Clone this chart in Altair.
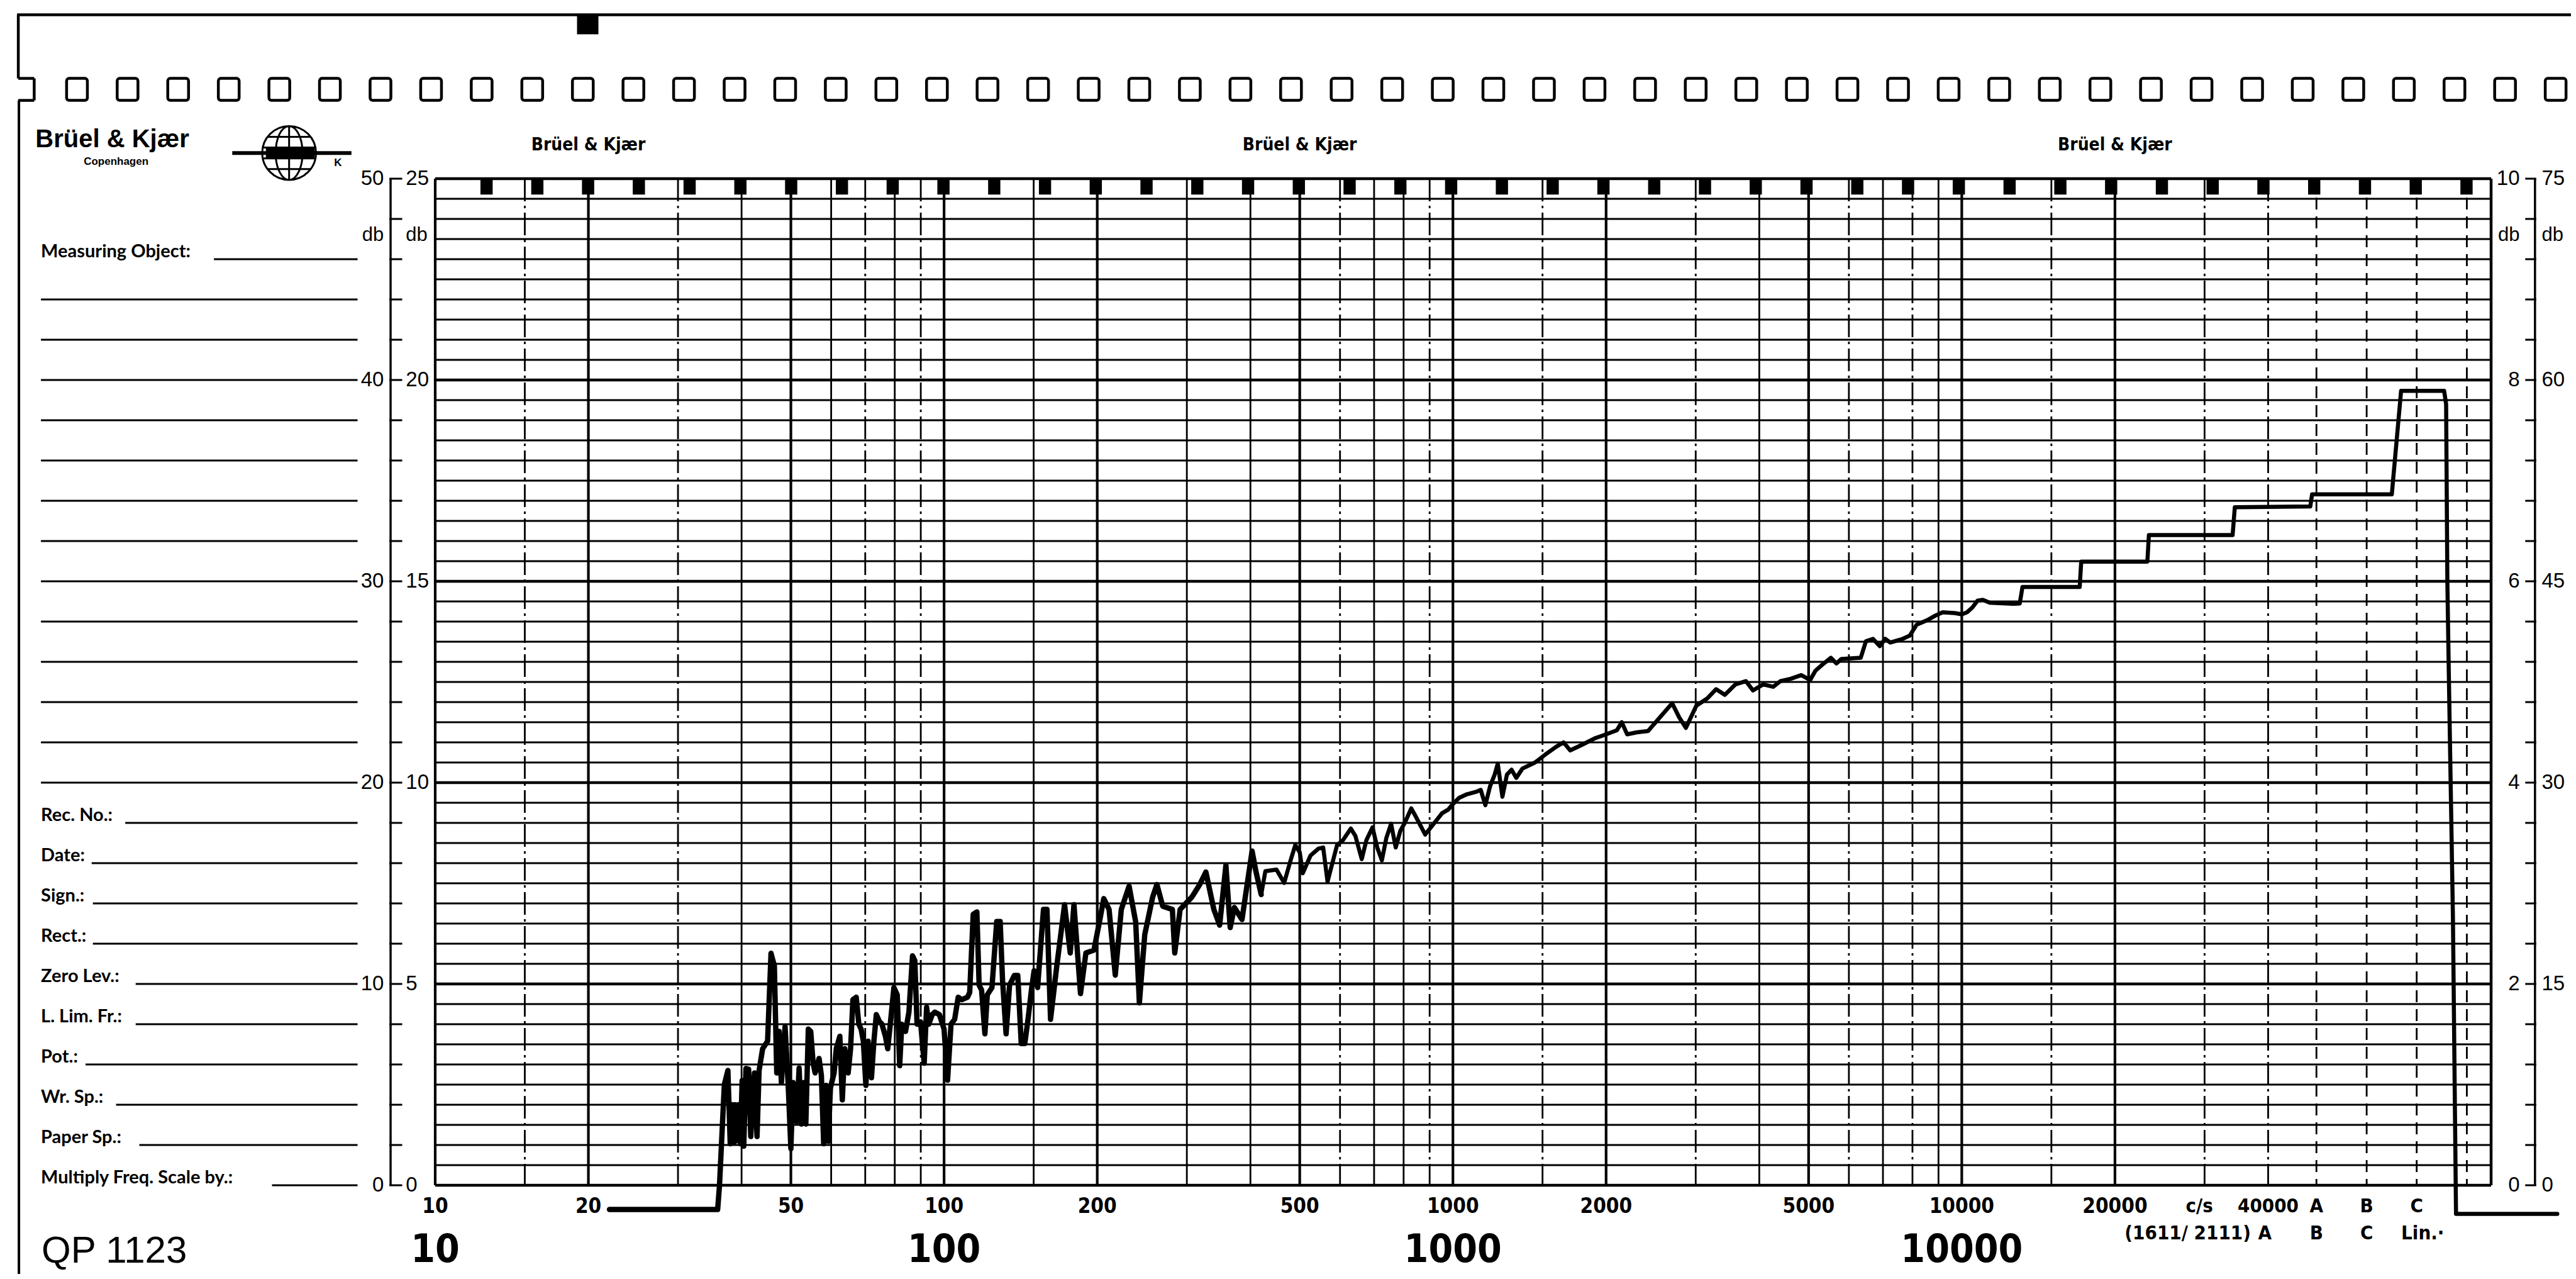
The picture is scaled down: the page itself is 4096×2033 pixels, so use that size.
import altair as alt
import pandas as pd

# ---------------- data ----------------
# recorded level (dB on the 25 dB scale) vs frequency (c/s)
low_freq = [22.0, 35.9, 36.2, 37.0, 37.6, 38.0, 38.3, 38.6, 38.8, 39.0, 39.4, 39.8, 40.1, 40.4, 40.8,
            41.3, 41.7, 42.4, 42.9, 43.3,
            44.0, 45.0, 45.7, 46.4, 46.9, 47.4, 47.9, 48.7, 49.4, 50.0, 50.5, 51.3, 51.9, 52.4, 53.0,
            53.5, 54.1, 54.7, 55.3, 55.8, 56.8, 57.4, 58.0, 58.6, 59.2, 59.8, 60.8, 61.4, 62.4, 63.1,
            63.8, 64.8, 65.5, 66.2, 67.2, 68.0, 68.7, 69.4, 70.2, 70.9, 72.0, 72.8, 73.6, 74.7, 75.5,
            76.7, 77.5, 78.4, 79.7, 80.9, 81.8, 82.6, 84.0, 85.3, 86.7, 87.6, 88.5, 89.9, 91.4, 92.4,
            93.3, 94.8, 95.9, 97.9, 100, 101.6, 103.2, 104.9, 106.6, 108.3, 111.2, 112.3, 114.1, 116.0,
            117.2, 118.5, 120.3, 121.6, 124.2, 126.9, 128.9, 130.3, 132.4, 134.5, 137.4, 139.6, 141.8,
            144.1, 146.4, 148.7, 150.3, 152.7, 156.8, 159.3, 161.9]
low_level = [-0.6, -0.6, 0.0, 2.5, 2.85, 1.03, 2.0, 1.05, 2.0, 1.1, 2.0, 1.03, 2.6, 0.97, 2.9,
             2.88, 1.21, 2.79, 1.21, 2.85,
             3.39, 3.58, 5.76, 5.45, 2.79, 3.82, 2.55, 3.94, 2.48, 0.91, 2.55, 1.58, 2.91, 1.52, 2.55,
             1.52, 3.88, 3.82, 3.03, 2.79, 3.15, 2.73, 1.03, 2.48, 1.09, 2.42, 2.79, 3.39, 3.70, 2.12,
             3.39, 2.79, 3.39, 4.61, 4.67, 4.0, 3.88, 3.58, 2.48, 3.58, 2.67, 3.58, 4.24, 4.06, 4.0,
             3.70, 3.39, 4.0, 4.91, 4.73, 2.97, 4.0, 3.82, 4.30, 5.70, 5.58, 4.0, 4.06, 3.03, 4.42,
             4.0, 4.24, 4.30, 4.24, 3.88, 2.61, 4.0, 4.12, 4.67, 4.61, 4.67, 4.79, 6.73, 6.79,
             4.97, 4.85, 3.76, 4.73, 4.91, 6.55, 6.55, 5.09, 3.76, 4.97, 5.21, 5.21, 3.52,
             3.52, 4.18, 4.91, 5.33, 4.91, 6.85, 6.85, 4.12]

mid_freq = [166.6, 172.5, 177, 180, 185.4, 190, 197, 202, 206, 211, 217, 223, 231, 238, 242, 248, 257,
            262, 269, 281, 284, 291, 307, 318, 327, 339, 348, 358, 365, 372, 385, 403, 410, 420, 428,
            450, 466, 479, 490, 500, 507, 525, 544, 556, 567, 579, 592, 608, 630, 643, 662, 676, 695,
            710, 725, 740, 756, 772, 788, 805, 828, 846, 882, 913, 952, 979, 1000, 1028, 1065, 1110,
            1134, 1158, 1183, 1208, 1225, 1251, 1277, 1304, 1332, 1370, 1450, 1520, 1600, 1650, 1700,
            1800, 1900, 2000, 2100, 2147, 2200, 2300]
mid_level = [5.46, 6.97, 5.77, 6.97, 4.76, 5.77, 5.84, 6.54, 7.12, 6.85, 5.22, 6.85, 7.43, 6.54, 4.53,
             6.23, 7.16, 7.47, 6.93, 6.85, 5.77, 6.85, 7.16, 7.47, 7.78, 6.85, 6.46, 7.95, 6.4, 6.9,
             6.6, 8.30, 7.8, 7.22, 7.8, 7.84, 7.51, 8.04, 8.45, 8.27, 7.75, 8.19, 8.36, 8.39, 7.54,
             7.98, 8.45, 8.57, 8.86, 8.68, 8.10, 8.57, 8.89, 8.39, 8.07, 8.63, 8.98, 8.39, 8.80, 9.01,
             9.36, 9.15, 8.71, 8.95, 9.24, 9.33, 9.47, 9.62, 9.71, 9.77, 9.82, 9.44, 9.91, 10.20,
             10.47, 9.65, 10.20, 10.32, 10.12, 10.35, 10.5, 10.7, 10.9, 11.0, 10.8, 10.95, 11.1,
             11.2, 11.3, 11.5, 11.2, 11.25]

high_freq = [2417, 2576, 2697, 2784, 2870, 3008, 3160, 3290, 3423, 3590, 3766, 3888, 4070, 4260, 4400,
             4614, 4836, 5036, 5157, 5320, 5530, 5670, 5800, 6330, 6480, 6690, 6900, 7070, 7235, 7650,
             7900, 8150, 8540, 8880, 9170, 9690, 10000, 10240, 10490, 10740, 11000, 11350, 12630,
             13000, 13160, 17050, 17170, 23160, 23320, 34060, 34400, 48400, 48800, 70000, 73000,
             88700, 89500, 90000, 90600, 92300, 93600, 148000]
high_level = [11.28, 11.68, 11.97, 11.62, 11.36, 11.91, 12.09, 12.32, 12.18, 12.44, 12.52, 12.29, 12.44,
              12.38, 12.52, 12.58, 12.67, 12.55, 12.78, 12.93, 13.10, 12.96, 13.07, 13.10, 13.51, 13.57,
              13.39, 13.57, 13.48, 13.57, 13.65, 13.92, 14.03, 14.15, 14.23, 14.21, 14.18, 14.23, 14.35,
              14.52, 14.54, 14.47, 14.44, 14.45, 14.86, 14.86, 15.49, 15.49, 16.15, 16.15, 16.84, 16.86,
              17.16, 17.16, 19.73, 19.73, 19.4, 15.0, 12.7, 6.65, -0.71, -0.71]

# paper grid
major_lines = [10, 20, 50, 100, 200, 500, 1000, 2000, 5000, 10000, 20000]
minor_lines = [40, 60, 80, 150, 300, 400, 700, 800, 4000, 7000, 9000]
dashdot_lines = [15, 30, 70, 90, 600, 900, 1500, 3000, 6000, 8000, 15000, 30000, 40000]
weighting_lines = [49770, 62470, 78340, 98300]
right_edge = 109700
level_lines = [i * 0.5 for i in range(51)]

small_tick_freqs = [10, 20, 50, 100, 200, 500, 1000, 2000, 5000, 10000, 20000]
small_tick_labels = ["10", "20", "50", "100", "200", "500", "1000", "2000", "5000", "10000", "20000"]
decade_freqs = [10, 100, 1000, 10000]
decade_labels = ["10", "100", "1000", "10000"]
row1_freqs = [29300, 40000, 49770, 62470, 78340]
row1_labels = ["c/s", "40000", "A", "B", "C"]
row2_freqs = [27800, 39400, 49770, 62470, 80500]
row2_labels = ["(1611/ 2111)", "A", "B", "C", "Lin.·"]
header_freqs = [20, 500, 20000]

axis_levels = [25, 20, 15, 10, 5, 0]
left_outer = ["50", "40", "30", "20", "10", "0"]
left_inner = ["25", "20", "15", "10", "5", "0"]
right_inner = ["10", "8", "6", "4", "2", "0"]
right_outer = ["75", "60", "45", "30", "15", "0"]
tick_levels = list(range(26))

form_labels = ["Measuring Object:", "Rec. No.:", "Date:", "Sign.:", "Rect.:", "Zero Lev.:",
               "L. Lim. Fr.:", "Pot.:", "Wr. Sp.:", "Paper Sp.:", "Multiply Freq. Scale by.:"]
form_levels = [23, 9, 8, 7, 6, 5, 4, 3, 2, 1, 0]
blank_levels = list(range(10, 23))

# ---------------- layout (reference pixels -> output pixels) ----------------
S = 0.972
X0, Y0 = 712, 292
W = round((4075 - X0) * S)
H = round((1938 - Y0) * S)


def px(X):
    return (X - X0) * S


def py(Y):
    return (Y - Y0) * S


xs = alt.Scale(type="log", domain=[10, right_edge], nice=False)
ys = alt.Scale(domain=[0, 25], nice=False, zero=False)
NUM = "'Liberation Sans', Arial, sans-serif"
NARROW = "'Liberation Sans Narrow', 'DejaVu Sans Condensed', 'Liberation Sans', sans-serif"
FORM = "Lato, 'Open Sans', sans-serif"


def fx(field="f"):
    return alt.X(f"{field}:Q", scale=xs, axis=None)


def ly(field="db"):
    return alt.Y(f"{field}:Q", scale=ys, axis=None)


def pxx(field="x1"):
    return alt.X(f"{field}:Q", scale=None, axis=None)


def pyy(field="y1"):
    return alt.Y(f"{field}:Q", scale=None, axis=None)


layers = []

# vertical grid lines
def vlines(freqs, width, dash=None):
    kw = dict(color="black", strokeWidth=width)
    if dash:
        kw["strokeDash"] = dash
    return alt.Chart(pd.DataFrame({"f": freqs})).mark_rule(**kw).encode(
        x=fx(), y=alt.value(0), y2=alt.value(H))

layers.append(vlines(minor_lines, 2.8))
layers.append(vlines(dashdot_lines, 2.8, [36, 7, 4, 7]))
layers.append(vlines(weighting_lines, 2.8, [19, 11]))
layers.append(vlines(major_lines, 4.2))
layers.append(vlines([right_edge], 4.5))

# horizontal grid lines
hl = pd.DataFrame({"db": level_lines})
hl["w"] = [4.6 if (v % 5 == 0) else 3.0 for v in level_lines]
layers.append(alt.Chart(hl[hl.w < 4]).mark_rule(color="black", strokeWidth=3.0).encode(
    y=ly(), x=alt.value(0), x2=alt.value(W)))
layers.append(alt.Chart(hl[hl.w > 4]).mark_rule(color="black", strokeWidth=4.6).encode(
    y=ly(), x=alt.value(0), x2=alt.value(W)))

# notches on top border of the grid
notch_x = [796 + 83.05 * i for i in range(40)]
notches = pd.DataFrame({"x1": [px(x - 10) for x in notch_x], "x2": [px(x + 10) for x in notch_x]})
layers.append(alt.Chart(notches).mark_rect(color="black").encode(
    x=pxx("x1"), x2=alt.X2("x2"), y=alt.value(py(290)), y2=alt.value(py(318))))

# recorded curve (the jagged low-frequency part traced with a wider pen)
curve = pd.DataFrame({"f": low_freq + mid_freq + high_freq,
                      "db": low_level + mid_level + high_level})
curve["i"] = range(len(curve))
split = curve.index[curve.f == 420][0]
layers.append(alt.Chart(curve.loc[:split]).mark_line(
    color="black", strokeWidth=8.5, clip=False, strokeJoin="round", strokeCap="round").encode(
    x=fx(), y=ly(), order="i:Q"))
layers.append(alt.Chart(curve.loc[split:]).mark_line(
    color="black", strokeWidth=6.5, clip=False, strokeJoin="round", strokeCap="round").encode(
    x=fx(), y=ly(), order="i:Q"))

# ---------- left scale ----------
layers.append(alt.Chart(pd.DataFrame({"a": [0]})).mark_rule(color="black", strokeWidth=3.5).encode(
    x=alt.value(px(639)), y=alt.value(0), y2=alt.value(H)))
layers.append(alt.Chart(pd.DataFrame({"db": tick_levels})).mark_rule(color="black", strokeWidth=3).encode(
    y=ly(), x=alt.value(px(637)), x2=alt.value(px(658))))
la = pd.DataFrame({"db": axis_levels, "o": left_outer, "n": left_inner,
                   "ri": right_inner, "ro": right_outer})
layers.append(alt.Chart(la).mark_text(align="right", baseline="middle", font=NUM, fontSize=33,
                                      color="black").encode(y=ly(), x=alt.value(px(628)), text="o:N"))
layers.append(alt.Chart(la).mark_text(align="left", baseline="middle", font=NUM, fontSize=33,
                                      color="black").encode(y=ly(), x=alt.value(px(664)), text="n:N"))

# ---------- right scale ----------
layers.append(alt.Chart(pd.DataFrame({"a": [0]})).mark_rule(color="black", strokeWidth=3.5).encode(
    x=alt.value(px(4147)), y=alt.value(0), y2=alt.value(H)))
layers.append(alt.Chart(pd.DataFrame({"db": tick_levels})).mark_rule(color="black", strokeWidth=3).encode(
    y=ly(), x=alt.value(px(4131)), x2=alt.value(px(4149))))
layers.append(alt.Chart(la).mark_text(align="right", baseline="middle", font=NUM, fontSize=33,
                                      color="black").encode(y=ly(), x=alt.value(px(4122)), text="ri:N"))
layers.append(alt.Chart(la).mark_text(align="left", baseline="middle", font=NUM, fontSize=33,
                                      color="black").encode(y=ly(), x=alt.value(px(4158)), text="ro:N"))

# db labels
dbl = pd.DataFrame({"db": [23.6] * 4, "x1": [px(628), px(664), px(4122), px(4158)],
                    "t": ["db", "db", "db", "db"], "a": ["right", "left", "right", "left"]})
for a in ["right", "left"]:
    layers.append(alt.Chart(dbl[dbl.a == a]).mark_text(align=a, baseline="middle", font=NUM,
                                                       fontSize=31, color="black").encode(
        y=ly(), x=pxx("x1"), text="t:N"))

# ---------- form on the left ----------
form_line_start = [350, 205, 150, 152, 152, 222, 222, 140, 190, 228, 445]
fl = pd.DataFrame({"db": form_levels, "t": form_labels,
                   "x1": [px(s) for s in form_line_start], "x2": [px(585)] * len(form_levels)})
layers.append(alt.Chart(fl).mark_text(align="left", baseline="alphabetic", dy=-3, font=FORM,
                                      fontSize=29, fontWeight="bold", color="black").encode(
    y=ly(), x=alt.value(px(67)), text="t:N"))
layers.append(alt.Chart(fl).mark_rule(color="black", strokeWidth=3.2).encode(
    y=ly(), x=pxx("x1"), x2=alt.X2("x2")))
bl = pd.DataFrame({"db": blank_levels})
layers.append(alt.Chart(bl).mark_rule(color="black", strokeWidth=3.2).encode(
    y=ly(), x=alt.value(px(67)), x2=alt.value(px(585))))

# ---------- frequency labels ----------
st = pd.DataFrame({"f": small_tick_freqs, "t": small_tick_labels})
layers.append(alt.Chart(st).mark_text(baseline="middle", font=NARROW, fontSize=33, fontWeight="bold",
                                      color="black").encode(x=fx(), y=alt.value(py(1973)), text="t:N"))
r1 = pd.DataFrame({"f": row1_freqs, "t": row1_labels})
layers.append(alt.Chart(r1).mark_text(baseline="middle", font=NARROW, fontSize=31, fontWeight="bold",
                                      color="black").encode(x=fx(), y=alt.value(py(1973)), text="t:N"))
r2 = pd.DataFrame({"f": row2_freqs, "t": row2_labels})
layers.append(alt.Chart(r2).mark_text(baseline="middle", font=NARROW, fontSize=31, fontWeight="bold",
                                      color="black").encode(x=fx(), y=alt.value(py(2017)), text="t:N"))
dl = pd.DataFrame({"f": decade_freqs, "t": decade_labels})
layers.append(alt.Chart(dl).mark_text(baseline="middle", font=NARROW, fontSize=62, fontWeight="bold",
                                      color="black").encode(x=fx(), y=alt.value(py(2044)), text="t:N"))
layers.append(alt.Chart(pd.DataFrame({"t": ["QP 1123"]})).mark_text(
    align="left", baseline="middle", font=NUM, fontSize=60, color="black").encode(
    x=alt.value(px(68)), y=alt.value(py(2046)), text="t:N"))

# ---------- header ----------
hd = pd.DataFrame({"f": header_freqs, "t": ["Brüel & Kjær"] * 3})
layers.append(alt.Chart(hd).mark_text(baseline="middle", font=NARROW, fontSize=28, fontWeight="bold",
                                      color="black").encode(x=fx(), y=alt.value(py(237)), text="t:N"))
layers.append(alt.Chart(pd.DataFrame({"t": ["Brüel & Kjær"]})).mark_text(
    align="left", baseline="middle", font=NUM, fontSize=40, fontWeight="bold", color="black").encode(
    x=alt.value(px(58)), y=alt.value(py(228)), text="t:N"))
layers.append(alt.Chart(pd.DataFrame({"t": ["Copenhagen"]})).mark_text(
    align="center", baseline="middle", font=NUM, fontSize=17, fontWeight="bold", color="black").encode(
    x=alt.value(px(190)), y=alt.value(py(264)), text="t:N"))

# globe emblem
globe_path = ("M0,-1 A1,1 0 1,1 0,1 A1,1 0 1,1 0,-1 Z "
              "M0,-1 A0.5,1 0 0,0 0,1 M0,-1 A0.5,1 0 0,1 0,1 M0,-1 L0,1 "
              "M-0.8,-0.6 L0.8,-0.6 M-0.98,-0.2 L0.98,-0.2 M-0.98,0.2 L0.98,0.2 M-0.8,0.6 L0.8,0.6")
layers.append(alt.Chart(pd.DataFrame({"a": [0]})).mark_point(
    shape=globe_path, size=(88 * S) ** 2, filled=False, color="black", strokeWidth=3, opacity=1).encode(
    x=alt.value(px(473)), y=alt.value(py(250))))
layers.append(alt.Chart(pd.DataFrame({"a": [0]})).mark_rule(color="black", strokeWidth=6).encode(
    x=alt.value(px(380)), x2=alt.value(px(575)), y=alt.value(py(250))))
layers.append(alt.Chart(pd.DataFrame({"a": [0]})).mark_rect(color="black").encode(
    x=alt.value(px(435)), x2=alt.value(px(515)), y=alt.value(py(240)), y2=alt.value(py(258))))
layers.append(alt.Chart(pd.DataFrame({"t": ["K"]})).mark_text(
    baseline="middle", font=NUM, fontSize=17, fontWeight="bold", color="black").encode(
    x=alt.value(px(553)), y=alt.value(py(266)), text="t:N"))

# ---------- paper edge, top border, sprocket holes ----------
HT, HB = 128, 164
hole_x = [126 + 82.75 * i for i in range(50)]
holes = pd.DataFrame({"x1": [px(x - 17) for x in hole_x], "x2": [px(x + 17) for x in hole_x]})
layers.append(alt.Chart(holes).mark_rect(fillOpacity=0, stroke="black", strokeWidth=4.5, cornerRadius=4).encode(
    x=pxx("x1"), x2=alt.X2("x2"), y=alt.value(py(HT)), y2=alt.value(py(HB))))
edge = pd.DataFrame({
    "x1": [px(28), px(30), px(30), px(56), px(30)],
    "x2": [px(4215), px(30), px(56), px(56), px(56)],
    "y1": [py(24), py(24), py(HT), py(HT), py(HB)],
    "y2": [py(24), py(HT), py(HT), py(HB), py(HB)],
})
layers.append(alt.Chart(edge).mark_rule(color="black", strokeWidth=4.5).encode(
    x=pxx("x1"), x2=alt.X2("x2"), y=pyy("y1"), y2=alt.Y2("y2")))
layers.append(alt.Chart(pd.DataFrame({"a": [0]})).mark_rule(color="black", strokeWidth=4).encode(
    x=alt.value(px(31)), y=alt.value(py(HB)), y2=alt.value(py(2095))))
layers.append(alt.Chart(pd.DataFrame({"a": [0]})).mark_rect(color="black").encode(
    x=alt.value(px(944)), x2=alt.value(px(979)), y=alt.value(py(24)), y2=alt.value(py(56))))

chart = alt.layer(*layers).properties(
    width=W, height=H,
    padding={"left": 684, "top": 276, "right": 4080 - 684 - W, "bottom": 2017 - 276 - H},
    autosize=alt.AutoSizeParams(type="none"),
    background="white",
).configure_view(stroke=None)

chart.save("out.html", embed_options={"renderer": "svg", "actions": False})
